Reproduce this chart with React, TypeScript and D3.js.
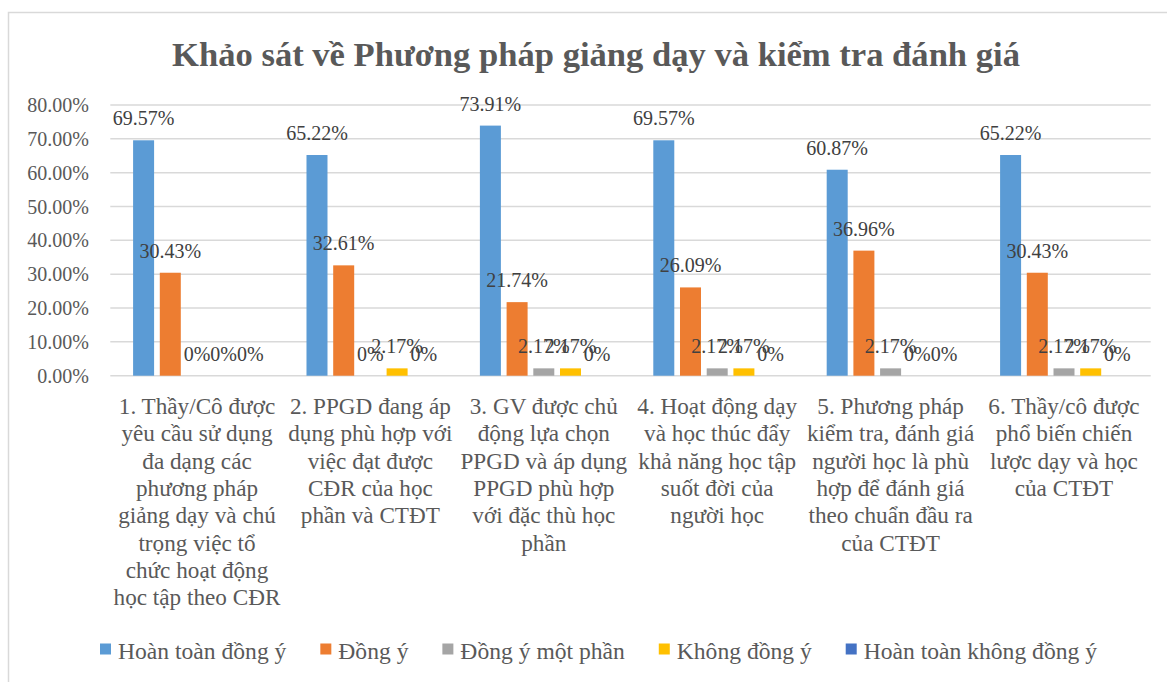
import React from "react";
import * as d3 from "d3";

const categories: string[] = [
  "1. Thầy/Cô được\nyêu cầu sử dụng\nđa dạng các\nphương pháp\ngiảng dạy và chú\ntrọng việc tổ\nchức hoạt động\nhọc tập theo CĐR",
  "2. PPGD đang áp\ndụng phù hợp với\nviệc đạt được\nCĐR của học\nphần và CTĐT",
  "3. GV được chủ\nđộng lựa chọn\nPPGD và áp dụng\nPPGD phù hợp\nvới đặc thù học\nphần",
  "4. Hoạt động dạy\nvà học thúc đẩy\nkhả năng học tập\nsuốt đời của\nngười học",
  "5. Phương pháp\nkiểm tra, đánh giá\nngười học là phù\nhợp để đánh giá\ntheo chuẩn đầu ra\ncủa CTĐT",
  "6. Thầy/cô được\nphổ biến chiến\nlược dạy và học\ncủa CTĐT",
];

const seriesNames: string[] = [
  "Hoàn toàn đồng ý",
  "Đồng ý",
  "Đồng ý một phần",
  "Không đồng ý",
  "Hoàn toàn không đồng ý",
];

const hoanToanDongY: number[] = [69.57, 65.22, 73.91, 69.57, 60.87, 65.22];
const dongY: number[] = [30.43, 32.61, 21.74, 26.09, 36.96, 30.43];
const dongYMotPhan: number[] = [0, 0, 2.17, 2.17, 2.17, 2.17];
const khongDongY: number[] = [0, 2.17, 2.17, 2.17, 0, 2.17];
const hoanToanKhongDongY: number[] = [0, 0, 0, 0, 0, 0];

const yTicks: number[] = [0, 10, 20, 30, 40, 50, 60, 70, 80];

const title = "Khảo sát về Phương pháp giảng dạy và kiểm tra đánh giá";

const seriesValues = [hoanToanDongY, dongY, dongYMotPhan, khongDongY, hoanToanKhongDongY];
const colors = ["#5B9BD5", "#ED7D31", "#A5A5A5", "#FFC000", "#4472C4"];

const FONT = "'Liberation Serif', 'Times New Roman', Times, serif";

function measure(text: string, size: number): number {
  if (typeof document === "undefined") return text.length * size * 0.45;
  const c = document.createElement("canvas").getContext("2d");
  if (!c) return text.length * size * 0.45;
  c.font = `${size}px 'Liberation Serif', 'Times New Roman', serif`;
  return c.measureText(text).width;
}

const fmt = (v: number) => (v === 0 ? "0%" : v.toFixed(2) + "%");

export default function App() {
  const W = 1167;
  const H = 682;
  const left = 110.3;
  const right = 1150.7;
  const y0 = 375.7;
  const yTop = 105;

  const x = d3.scaleBand<string>().domain(categories).range([left, right]).padding(0);
  const y = d3.scaleLinear().domain([0, 80]).range([y0, yTop]);
  const step = x.bandwidth() * 0.154;
  const barW = 21;

  const legendFont = 23.6;
  const widths = seriesNames.map((s) => measure(s, legendFont));
  const markerW = 11;
  const markerGap = 7;
  const itemW = widths.map((w) => markerW + markerGap + w);
  const gap = Math.max(20, (997 - d3.sum(itemW)) / (itemW.length - 1));
  const total = d3.sum(itemW) + gap * (itemW.length - 1);
  let lx = 100 + (997 - total) / 2;
  const legendPos = itemW.map((w) => {
    const p = lx;
    lx += w + gap;
    return p;
  });

  const ts = { fontFamily: FONT };

  return (
    <svg
      width={W}
      height={H}
      style={{ position: "absolute", left: 0, top: 0, background: "#fff", fontFamily: FONT }}
    >
      <rect x={0} y={0} width={W} height={H} fill="#fff" />
      <rect x={8.5} y={12.5} width={1180} height={700} fill="#fff" stroke="#D9D9D9" strokeWidth={1.5} />
      <text x={596} y={66} textAnchor="middle" fontSize={34.6} fontWeight="bold" fill="#595959" style={ts}>
        {title}
      </text>
      {yTicks.map((t) => (
        <g key={t}>
          <line x1={left} x2={right} y1={y(t)} y2={y(t)} stroke="#D9D9D9" strokeWidth={1.5} />
          <text x={89} y={y(t) + 7} textAnchor="end" fontSize={20} fill="#595959" style={ts}>
            {t.toFixed(2) + "%"}
          </text>
        </g>
      ))}
      {seriesValues.map((vals, si) =>
        vals.map((v, ci) => {
          const cx = (x(categories[ci]) as number) + x.bandwidth() / 2 + (si - 2) * step;
          return (
            <rect
              key={`b${si}-${ci}`}
              x={cx - barW / 2}
              y={y(v)}
              width={barW}
              height={y0 - y(v)}
              fill={colors[si]}
            />
          );
        })
      )}
      {seriesValues.map((vals, si) =>
        vals.map((v, ci) => {
          const cx = (x(categories[ci]) as number) + x.bandwidth() / 2 + (si - 2) * step;
          return (
            <text
              key={`l${si}-${ci}`}
              x={cx}
              y={y(v) - 15}
              textAnchor="middle"
              fontSize={20}
              fill="#404040"
              style={ts}
            >
              {fmt(v)}
            </text>
          );
        })
      )}
      {categories.map((c) => {
        const cx = (x(c) as number) + x.bandwidth() / 2;
        return (
          <text key={c} x={cx} y={414} textAnchor="middle" fontSize={23.2} fill="#595959" style={ts}>
            {c.split("\n").map((line, i) => (
              <tspan key={i} x={cx} dy={i === 0 ? 0 : 27.3}>
                {line}
              </tspan>
            ))}
          </text>
        );
      })}
      {seriesNames.map((s, i) => (
        <g key={s} transform={`translate(${legendPos[i]},0)`}>
          <rect x={0} y={643.5} width={markerW} height={markerW} fill={colors[i]} />
          <text x={markerW + markerGap} y={658.5} fontSize={legendFont} fill="#595959" style={ts}>
            {s}
          </text>
        </g>
      ))}
    </svg>
  );
}
